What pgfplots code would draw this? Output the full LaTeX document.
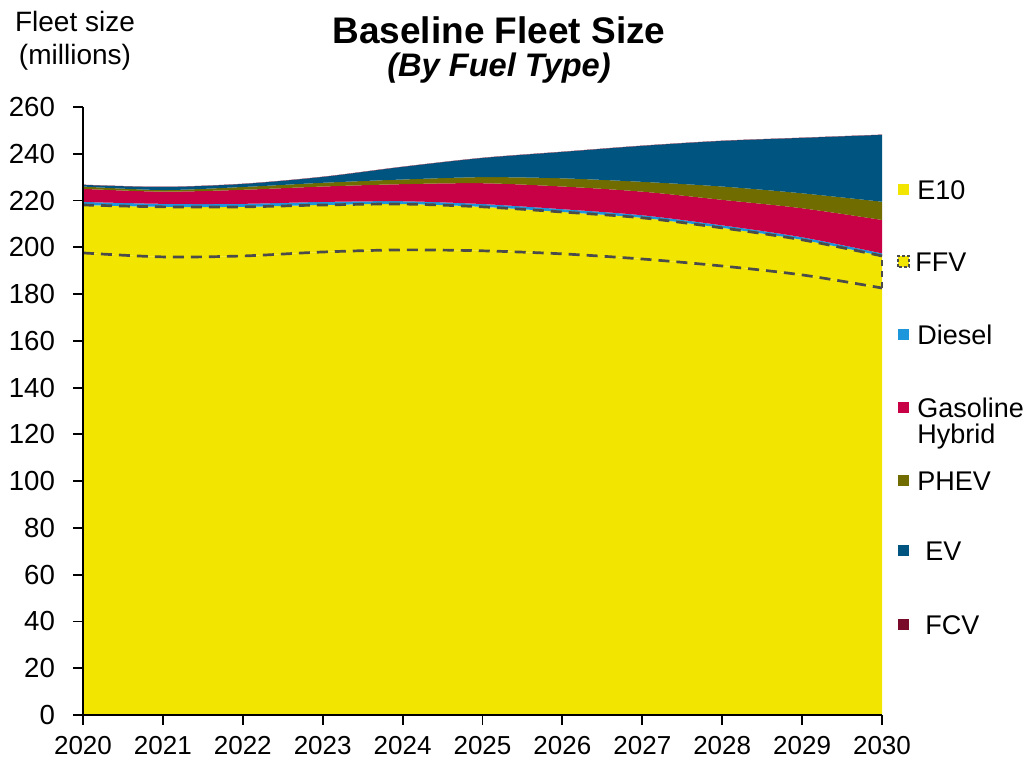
\documentclass[border=0pt]{standalone}
\usepackage{pgfplots}
\pgfplotsset{compat=1.18}
\usepackage{fontspec}
\setmainfont{Liberation Sans}
\definecolor{cE10}{RGB}{242,230,0}
\definecolor{cDiesel}{RGB}{30,150,220}
\definecolor{cHyb}{RGB}{200,0,70}
\definecolor{cPHEV}{RGB}{112,108,0}
\definecolor{cEV}{RGB}{0,85,128}
\definecolor{cFCV}{RGB}{122,10,42}
\definecolor{cDash}{RGB}{75,75,75}
\begin{document}
\begin{tikzpicture}[x=1pt,y=1pt]
\begin{axis}[
  at={(0,0)}, anchor=south west,
  scale only axis, width=399.5pt, height=304pt,
  xmin=2020, xmax=2030, ymin=0, ymax=260,
  stack plots=y, reverse stacked plots=false,
  axis x line*=bottom, axis y line*=left,
  axis line style={black, line width=1pt},
  tick style={black, line width=0.9pt},
  tick align=outside, major tick length=5pt,
  xtick={2020,2021,...,2030}, ytick={0,20,...,260},
  /pgf/number format/assume math mode=true,
  /pgf/number format/1000 sep={},
  xticklabel style={font=\fontsize{13}{15}\selectfont, yshift=-2pt},
  yticklabel style={font=\fontsize{13.8}{15}\selectfont, xshift=-5.5pt},
  every axis plot/.append style={smooth, tension=0.5},
  axis on top,
  clip=false,
]
% E10
\addplot[fill=cE10, draw=none] coordinates {(2020,197.6)(2021,195.9)(2022,196.3)(2023,198.0)(2024,198.9)(2025,198.5)(2026,197.2)(2027,195.0)(2028,192.0)(2029,188.2)(2030,182.6)} \closedcycle;
% FFV fill
\addplot[fill=cE10, draw=none] coordinates {(2020,20.5)(2021,21.4)(2022,21.0)(2023,20.1)(2024,19.6)(2025,18.8)(2026,17.9)(2027,17.6)(2028,16.3)(2029,15.0)(2030,13.7)} \closedcycle;
% FFV lower outline (back down to the E10 top)
\addplot[draw=cDash, fill=none, line width=1.35pt, dash pattern=on 5.5pt off 3.5pt] coordinates {(2020,-20.5)(2021,-21.4)(2022,-21.0)(2023,-20.1)(2024,-19.6)(2025,-18.8)(2026,-17.9)(2027,-17.6)(2028,-16.3)(2029,-15.0)(2030,-13.7)};
\addplot[draw=none, fill=none] coordinates {(2020,20.5)(2021,21.4)(2022,21.0)(2023,20.1)(2024,19.6)(2025,18.8)(2026,17.9)(2027,17.6)(2028,16.3)(2029,15.0)(2030,13.7)};
% Diesel
\addplot[fill=cDiesel, draw=none] coordinates {(2020,1.3)(2021,1.3)(2022,1.3)(2023,1.3)(2024,1.2)(2025,1.2)(2026,1.2)(2027,1.1)(2028,1.1)(2029,1.1)(2030,1.1)} \closedcycle;
% FFV upper outline (back down under the Diesel band)
\addplot[draw=cDash, fill=none, line width=1.35pt, dash pattern=on 5.5pt off 3.5pt] coordinates {(2020,-1.3)(2021,-1.3)(2022,-1.3)(2023,-1.3)(2024,-1.2)(2025,-1.2)(2026,-1.2)(2027,-1.1)(2028,-1.1)(2029,-1.1)(2030,-1.1)};
\addplot[draw=none, fill=none] coordinates {(2020,1.3)(2021,1.3)(2022,1.3)(2023,1.3)(2024,1.2)(2025,1.2)(2026,1.2)(2027,1.1)(2028,1.1)(2029,1.1)(2030,1.1)};
\draw[cDash, line width=1.35pt, dash pattern=on 3pt off 2.5pt] (axis cs:2030,182.6) -- (axis cs:2030,196.3);
% Gasoline Hybrid
\addplot[fill=cHyb, draw=none] coordinates {(2020,5.6)(2021,5.2)(2022,6.0)(2023,6.6)(2024,7.3)(2025,8.9)(2026,9.7)(2027,10.1)(2028,10.9)(2029,12.4)(2030,14.3)} \closedcycle;
% PHEV
\addplot[fill=cPHEV, draw=none] coordinates {(2020,1.0)(2021,0.7)(2022,1.2)(2023,1.6)(2024,2.0)(2025,2.6)(2026,3.5)(2027,4.2)(2028,5.7)(2029,6.4)(2030,7.8)} \closedcycle;
% EV
\addplot[fill=cEV, draw=none] coordinates {(2020,0.7)(2021,1.3)(2022,1.3)(2023,2.5)(2024,5.4)(2025,8.2)(2026,11.3)(2027,15.4)(2028,19.5)(2029,23.7)(2030,28.6)} \closedcycle;
% FCV
\addplot[fill=cFCV, draw=none] coordinates {(2020,0.1)(2021,0.1)(2022,0.1)(2023,0.1)(2024,0.1)(2025,0.1)(2026,0.1)(2027,0.1)(2028,0.1)(2029,0.1)(2030,0.1)} \closedcycle;
\end{axis}
% bounding box
\path (-41.5,-26) rectangle (472.5,357.5);
% titles
\node[font=\bfseries\fontsize{18.5}{20}\selectfont] at (208,342.5) {Baseline Fleet Size};
\node[font=\bfseries\itshape\fontsize{16.3}{18}\selectfont] at (208,323.5) {(By Fuel Type)};
\node[font=\fontsize{14}{16.5}\selectfont, align=center] at (-4,337) {Fleet size\\(millions)};
% legend
\def\lgfont{\fontsize{13.5}{13}\selectfont}
\fill[cE10] (407.5,260) rectangle ++(5.5,5.5);
\node[anchor=west, font=\lgfont, inner sep=0] at (417,262.5) {E10};
\fill[cE10] (407.5,224) rectangle ++(5.5,5.5);
\draw[cDash, line width=0.8pt, dash pattern=on 1.5pt off 1pt] (407.5,224) rectangle ++(5.5,5.5);
\node[anchor=west, font=\lgfont, inner sep=0] at (416,226.5) {FFV};
\fill[cDiesel] (407.5,187.5) rectangle ++(5.5,5.5);
\node[anchor=west, font=\lgfont, inner sep=0] at (417,190) {Diesel};
\fill[cHyb] (407.5,151) rectangle ++(5.5,5.5);
\node[anchor=north west, font=\lgfont, inner sep=0, align=left] at (417,158.5) {Gasoline\\Hybrid};
\fill[cPHEV] (407.5,114.5) rectangle ++(5.5,5.5);
\node[anchor=west, font=\lgfont, inner sep=0] at (417,117) {PHEV};
\fill[cEV] (407.5,79.5) rectangle ++(5.5,5.5);
\node[anchor=west, font=\lgfont, inner sep=0] at (421,82) {EV};
\fill[cFCV] (407.5,42.5) rectangle ++(5.5,5.5);
\node[anchor=west, font=\lgfont, inner sep=0] at (421,45) {FCV};
\end{tikzpicture}
\end{document}
